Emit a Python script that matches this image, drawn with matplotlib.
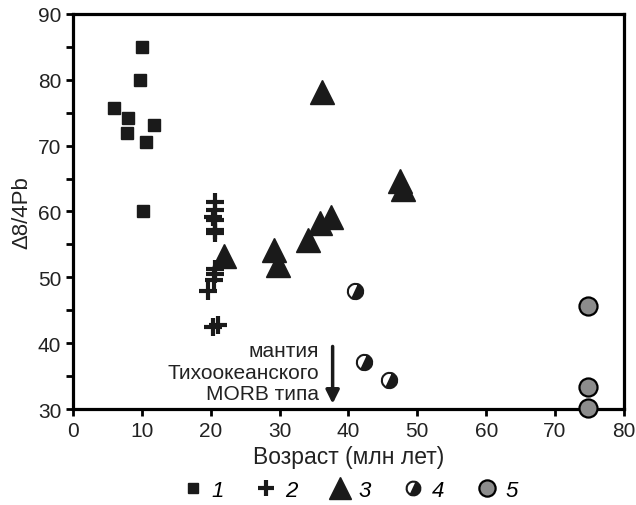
import numpy as np
import matplotlib
matplotlib.use('Agg')
import matplotlib.pyplot as plt
from matplotlib.markers import MarkerStyle
from matplotlib.transforms import Affine2D

plt.rcParams['font.family'] = ['Liberation Sans', 'DejaVu Sans']

# group 1 - squares
x1 = [10.0, 9.7, 6.0, 8.0, 11.7, 7.9, 10.6, 10.1]
y1 = [85.0, 80.0, 75.7, 74.2, 73.2, 71.9, 70.5, 60.0]
# group 2 - crosses
x2 = [20.6, 20.6, 20.3, 20.6, 20.6, 20.6, 20.6, 20.6, 20.5, 19.6, 20.4, 21.0]
y2 = [61.5, 60.2, 59.1, 58.7, 57.2, 56.8, 51.2, 50.5, 49.6, 47.9, 42.5, 42.8]
# group 3 - triangles
x3 = [36.1, 47.5, 47.9, 37.4, 35.8, 34.1, 29.2, 29.8, 21.9]
y3 = [78.1, 64.6, 63.4, 59.1, 58.3, 55.6, 54.1, 51.9, 53.2]
# group 4 - half filled circles
x4 = [41.0, 42.2, 45.9]
y4 = [48.0, 37.1, 34.4]
# group 5 - grey circles
x5 = [74.8, 74.8, 74.8]
y5 = [45.6, 33.4, 30.1]

labels = ['1', '2', '3', '4', '5']

fig = plt.figure(figsize=(6.36, 5.06), dpi=100)
ax = fig.add_axes([0.1148, 0.1897, 0.8662, 0.7807])

half = MarkerStyle('o', fillstyle='right', transform=Affine2D().rotate_deg(-25))

h1, = ax.plot(x1, y1, 's', ms=8.5, color='#1a1a1a', ls='none', clip_on=False, zorder=5)
h2, = ax.plot(x2, y2, '+', ms=13, mew=3, color='#1a1a1a', ls='none', clip_on=False, zorder=5)
h3, = ax.plot(x3, y3, '^', ms=17, color='#1a1a1a', ls='none', clip_on=False, zorder=5)
h4, = ax.plot(x4, y4, ls='none', marker=half, ms=11, mfc='#1a1a1a', mfcalt='white',
              mec='#1a1a1a', mew=1.5, clip_on=False, zorder=5)
h5, = ax.plot(x5, y5, 'o', ms=13, mfc='#8c8c8c', mec='black', mew=1.6, ls='none',
              clip_on=False, zorder=6)

# annotation: arrow towards Pacific MORB mantle
ax.annotate('', xy=(37.7, 30.8), xytext=(37.7, 39.5),
            arrowprops=dict(arrowstyle='-|>', color='#1a1a1a', lw=2.5,
                            mutation_scale=20, shrinkA=0, shrinkB=0))
ax.text(35.7, 35.6, 'мантия\nТихоокеанского\nMORB типа', ha='right', va='center',
        fontsize=15, color='#222222', linespacing=1.15)

ax.set_xlim(0, 80)
ax.set_ylim(30, 90)
ax.set_xticks(np.arange(0, 81, 10))
ax.set_yticks(np.arange(30, 91, 10))
ax.set_yticks(np.arange(35, 90, 10), minor=True)
for s in ax.spines.values():
    s.set_linewidth(2.3)
ax.tick_params(which='both', direction='out', width=2, length=5, labelsize=15,
               colors='#222222')
ax.tick_params(which='both', color='black')

ax.set_xlabel('Возраст (млн лет)', fontsize=16.5, color='#222222', labelpad=4)
ax.set_ylabel('Δ8/4Pb', fontsize=16, color='#222222', labelpad=4)

leg = fig.legend([h1, h2, h3, h4, h5], labels, loc='lower center',
                 bbox_to_anchor=(0.55, -0.032), ncol=5, frameon=False,
                 prop={'size': 16, 'style': 'italic'}, handlelength=1.0,
                 handletextpad=0.35, columnspacing=1.4, markerscale=0.9)

fig.savefig('out.png', dpi=100)
